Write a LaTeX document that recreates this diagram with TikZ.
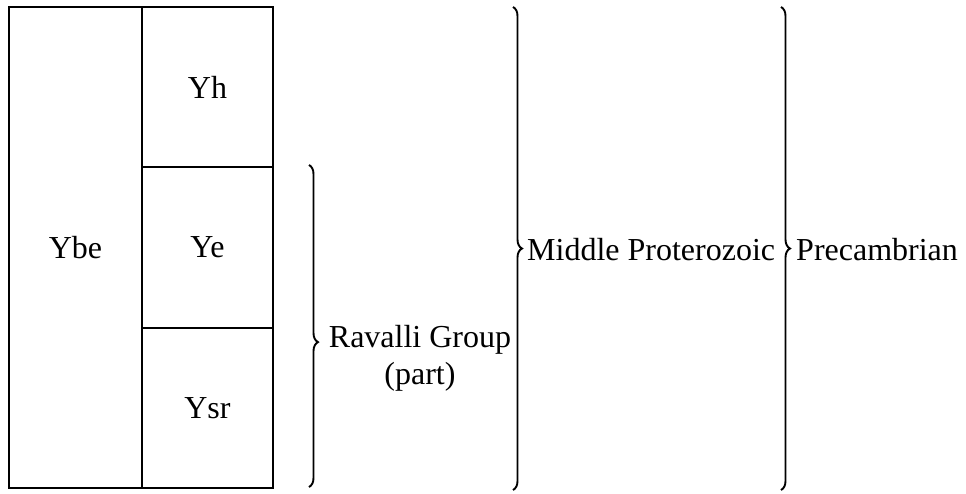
\documentclass[tikz,border=0pt]{standalone}
\usepackage{fontspec}
\setmainfont{Liberation Serif}
\usetikzlibrary{decorations.pathreplacing}
\begin{document}
\begin{tikzpicture}[x=1pt,y=-1pt,
  unit/.style={draw, line width=2.6pt, inner sep=0pt, font=\fontsize{32}{37}\selectfont},
  lbl/.style={inner sep=0pt, font=\fontsize{32}{37}\selectfont, align=center},
  brc/.style={draw, line width=1.9pt, decorate, decoration={brace, amplitude=9pt}}]
\useasboundingbox (0,0) rectangle (966,493);
\node[unit, minimum width=133pt, minimum height=481pt] (ybe) at (75.5,247.5) {Ybe};
\node[unit, minimum width=131pt, minimum height=160pt] (yh) at (207.5,87) {Yh};
\node[unit, minimum width=131pt, minimum height=161pt] (ye) at (207.5,247.5) {Ye};
\node[unit, minimum width=131pt, minimum height=160pt] (ysr) at (207.5,408) {Ysr};
\coordinate (r1) at (309,165);
\coordinate (r2) at (309,487);
\coordinate (m1) at (513,7);
\coordinate (m2) at (513,490);
\coordinate (p1) at (781,7);
\coordinate (p2) at (781,490);
\draw[brc, decoration={aspect=0.55}] (r1) -- (r2);
\draw[brc] (m1) -- (m2);
\draw[brc] (p1) -- (p2);
\node[lbl] (rav) at (420,358) {Ravalli Group\\(part)};
\node[lbl, anchor=west] (mid) at (527,250) {Middle Proterozoic};
\node[lbl, anchor=west] (pre) at (796,250) {Precambrian};
\end{tikzpicture}
\end{document}
